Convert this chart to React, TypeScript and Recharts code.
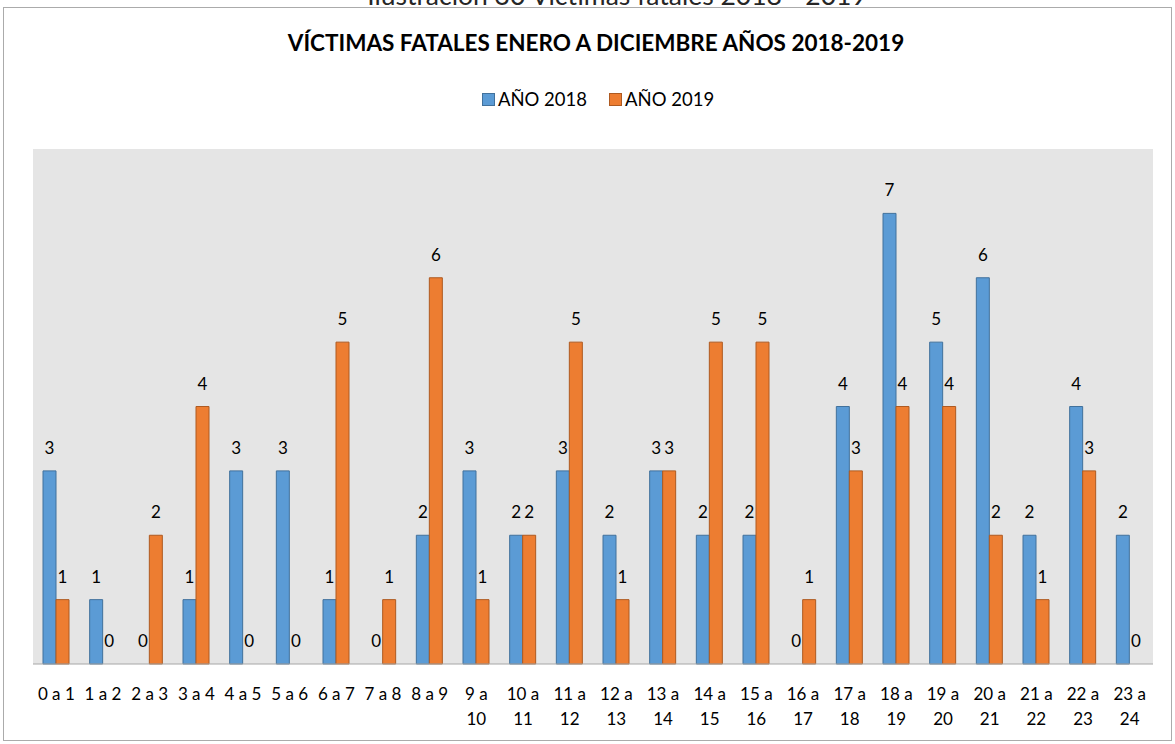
import { BarChart, Bar, XAxis, YAxis, CartesianGrid, LabelList, Rectangle } from 'recharts';

const ranges = [
  '0 a 1', '1 a 2', '2 a 3', '3 a 4', '4 a 5', '5 a 6', '6 a 7', '7 a 8', '8 a 9', '9 a 10',
  '10 a 11', '11 a 12', '12 a 13', '13 a 14', '14 a 15', '15 a 16', '16 a 17', '17 a 18',
  '18 a 19', '19 a 20', '20 a 21', '21 a 22', '22 a 23', '23 a 24',
];
const y2018 = [3, 1, 0, 1, 3, 3, 1, 0, 2, 3, 2, 3, 2, 3, 2, 2, 0, 4, 7, 5, 6, 2, 4, 2];
const y2019 = [1, 0, 2, 4, 0, 0, 5, 1, 6, 1, 2, 5, 1, 3, 5, 5, 1, 3, 4, 4, 2, 1, 3, 0];

const series = [
  { key: 'a2018', name: 'AÑO 2018', fill: '#5B9BD5', stroke: '#41719C' },
  { key: 'a2019', name: 'AÑO 2019', fill: '#ED7D31', stroke: '#AE5A21' },
];

const data = ranges.map((r, i) => ({ rango: r, a2018: y2018[i], a2019: y2019[i] }));

const FONT = 'Lato, "Open Sans", sans-serif';

function RangeTick({ x, y, payload }: any) {
  const label: string = payload.value;
  const lines = label.length <= 5 ? [label] : [label.split(' a ')[0] + ' a', label.split(' a ')[1]];
  return (
    <g transform={`translate(${x},${y})`}>
      {lines.map((l, i) => (
        <text key={i} x={0} y={36 + i * 25} textAnchor="middle" fontSize={17} fill="#000" fontFamily={FONT}>
          {l}
        </text>
      ))}
    </g>
  );
}

// zero bars keep a hair of height so their "0" label is still placed, but draw nothing
const barShape = (key: string) => (props: any) =>
  props.payload && props.payload[key] === 0 ? <g /> : <Rectangle {...props} />;

export default function App() {
  return (
    <div style={{ position: 'absolute', left: 0, top: 0, width: 1175, height: 744, background: '#fff', overflow: 'hidden' }}>
      <div
        style={{
          position: 'absolute', left: 0, width: 1192, top: 32, textAlign: 'center', lineHeight: '22px',
          fontFamily: FONT, fontSize: 22.5, fontWeight: 700, color: '#000', whiteSpace: 'nowrap',
        }}
      >
        VÍCTIMAS FATALES ENERO A DICIEMBRE AÑOS 2018-2019
      </div>
      <div
        style={{
          position: 'absolute', left: 0, width: 1196, top: 90, display: 'flex', justifyContent: 'center',
          gap: 22, fontFamily: FONT, fontSize: 18.5, lineHeight: '18px', color: '#000',
        }}
      >
        {series.map((s) => (
          <span key={s.key} style={{ display: 'flex', alignItems: 'center' }}>
            <span
              style={{
                width: 11, height: 11, background: s.fill, border: `1px solid ${s.stroke}`,
                marginRight: 3, display: 'inline-block',
              }}
            />
            {s.name}
          </span>
        ))}
      </div>
      <div style={{ position: 'absolute', left: 0, top: 0 }}>
        <BarChart
          width={1175}
          height={744}
          data={data}
          margin={{ top: 149, right: 22, left: 33, bottom: 20 }}
          barCategoryGap={10}
          barGap={0}
        >
          <CartesianGrid fill="#E5E5E5" stroke="none" horizontal={false} vertical={false} />
          <XAxis
            dataKey="rango"
            height={60}
            interval={0}
            tickLine={false}
            tickSize={0}
            tickMargin={0}
            axisLine={{ stroke: '#A6A6A6' }}
            tick={<RangeTick />}
          />
          <YAxis hide domain={[0, 8]} />
          {series.map((s) => (
            <Bar
              key={s.key}
              dataKey={s.key}
              name={s.name}
              fill={s.fill}
              stroke={s.stroke}
              strokeWidth={1}
              minPointSize={0.01}
              shape={barShape(s.key)}
              isAnimationActive={false}
            >
              <LabelList dataKey={s.key} position="top" offset={17} fontSize={17} fill="#000" fontFamily={FONT} />
            </Bar>
          ))}
        </BarChart>
      </div>
      <svg width={1175} height={744} style={{ position: 'absolute', left: 0, top: 0, pointerEvents: 'none' }}>
        <text x={617} y={5} textAnchor="middle" fontSize={26.5} fill="#262626" fontFamily={FONT}>
          Ilustración 30 Víctimas fatales 2018 - 2019
        </text>
        <rect x={3.5} y={7.5} width={1168} height={733} fill="none" stroke="#ABABAB" strokeWidth={1} />
      </svg>
    </div>
  );
}
